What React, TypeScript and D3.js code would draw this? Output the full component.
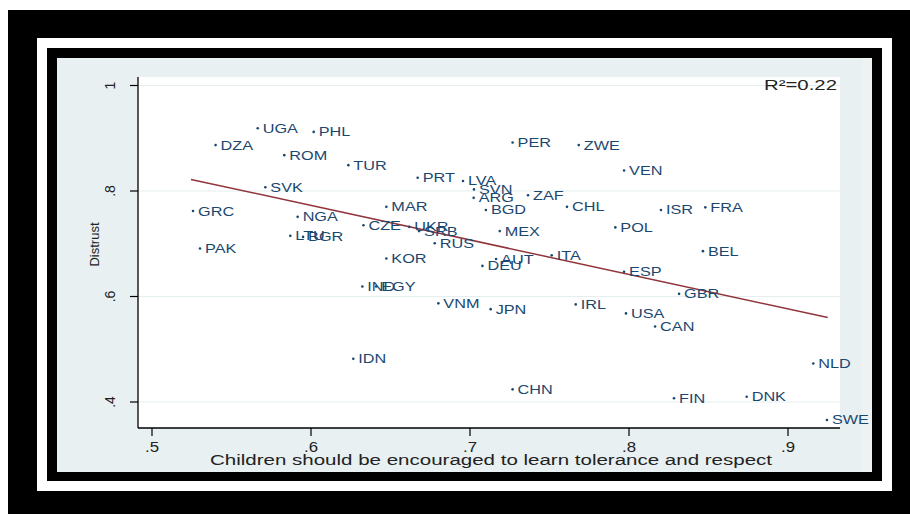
import React from 'react';
import * as d3 from 'd3';

const countries = ['UGA','PHL','DZA','ROM','TUR','SVK','GRC','NGA','LTU','BGR','PAK','CZE','PER','ZWE','PRT','LVA','SVN','ARG','ZAF','MAR','BGD','CHL','MEX','UKR','SRB','RUS','KOR','AUT','DEU','ITA','IND','EGY','VNM','JPN','IRL','IDN','CHN','VEN','ISR','FRA','POL','BEL','ESP','GBR','USA','CAN','NLD','FIN','DNK','SWE'];
const tolerance = [0.5665,0.6017,0.540,0.5832,0.6235,0.5713,0.5258,0.5916,0.587,0.595,0.5302,0.633,0.7268,0.7684,0.6671,0.6956,0.7025,0.7023,0.7365,0.6474,0.710,0.761,0.7187,0.6618,0.6680,0.6778,0.6474,0.7164,0.7078,0.7514,0.6323,0.641,0.6801,0.713,0.7665,0.6266,0.7268,0.7969,0.8201,0.848,0.7914,0.8465,0.7969,0.8315,0.7981,0.8164,0.9159,0.8283,0.874,0.9245];
const distrust = [0.919,0.912,0.887,0.868,0.849,0.807,0.762,0.751,0.715,0.713,0.691,0.735,0.892,0.887,0.825,0.819,0.803,0.787,0.792,0.770,0.764,0.770,0.724,0.732,0.724,0.701,0.672,0.671,0.658,0.678,0.619,0.619,0.587,0.576,0.585,0.482,0.424,0.839,0.764,0.769,0.731,0.686,0.647,0.605,0.568,0.543,0.473,0.407,0.410,0.366];
const xTicks = [0.5, 0.6, 0.7, 0.8, 0.9];
const yTicks = [0.4, 0.6, 0.8, 1];
const fitX = [0.5245, 0.925];
const fitY = [0.822, 0.560];
const r2Label = 'R\u00B2=0.22';
const xTitle = 'Children should be encouraged to learn tolerance and respect';
const yTitle = 'Distrust';

const FONT = '"Liberation Sans", Arial, Helvetica, sans-serif';
const NAVY = '#1a476f';
const MAROON = '#90353b';
const BG = '#e8f0f2';
const GRID = '#e4eef0';

export default function App() {
  const W = 910, H = 514;
  const plot = { l: 138, r: 840, t: 77, b: 428 };
  const x = d3.scaleLinear().domain([0.5, 0.9]).range([152, 788]);
  const y = d3.scaleLinear().domain([0.4, 1]).range([402, 85.5]);
  const fmt = (v: number) => (v === 1 ? '1' : d3.format('.1f')(v).replace(/^0/, ''));
  const line = d3.line<number>().x((d, i) => x(fitX[i])).y((d) => y(d));

  return (
    <svg width={W} height={H} style={{ position: 'absolute', left: 0, top: 0, fontFamily: FONT }}>
      <rect x={0} y={0} width={W} height={H} fill="#ffffff" />
      <rect x={8} y={10} width={W - 8} height={H - 10} fill="#000" />
      <rect x={37} y={38} width={855} height={453} fill="#fff" />
      <rect x={47} y={48} width={835} height={433} fill="#000" />
      <rect x={57} y={58} width={815} height={414} fill={BG} />
      <rect x={862} y={58} width={10} height={414} fill="#eef2f2" />
      <rect x={plot.l} y={plot.t} width={plot.r - plot.l} height={plot.b - plot.t} fill="#fff" />
      {yTicks.map((t) => (
        <line key={'g' + t} x1={plot.l} x2={plot.r} y1={y(t)} y2={y(t)} stroke={GRID} strokeWidth={1.2} />
      ))}
      <line x1={plot.l} x2={plot.l} y1={plot.t} y2={plot.b} stroke="#000" strokeWidth={1.3} />
      <line x1={plot.l} x2={plot.r} y1={plot.b} y2={plot.b} stroke="#000" strokeWidth={1.3} />
      {yTicks.map((t) => (
        <g key={'y' + t}>
          <line x1={plot.l - 8} x2={plot.l} y1={y(t)} y2={y(t)} stroke="#000" strokeWidth={1.2} />
          <text transform={`translate(115,${y(t)}) rotate(-90)`} textAnchor="middle" fontSize={14} fill="#222">{fmt(t)}</text>
        </g>
      ))}
      {xTicks.map((t) => (
        <g key={'x' + t}>
          <line x1={x(t)} x2={x(t)} y1={plot.b} y2={plot.b + 8} stroke="#000" strokeWidth={1.2} />
          <text transform={`translate(${x(t)},452) scale(1.2,1)`} textAnchor="middle" fontSize={14} fill="#222">{fmt(t)}</text>
        </g>
      ))}
      <text x={491} y={465} textAnchor="middle" fontSize={14} fill="#222" textLength={562} lengthAdjust="spacingAndGlyphs">{xTitle}</text>
      <text transform="translate(99,244.5) rotate(-90)" textAnchor="middle" fontSize={13} fill="#222">{yTitle}</text>
      <path d={line(fitY) || ''} fill="none" stroke={MAROON} strokeWidth={1.5} />
      {countries.map((c, i) => (
        <g key={c}>
          <circle cx={x(tolerance[i])} cy={y(distrust[i])} r={1.3} fill={NAVY} />
          <text transform={`translate(${x(tolerance[i]) + 5},${y(distrust[i]) + 4.5}) scale(1.3,1)`} fontSize={12.5} fill={NAVY}>{c}</text>
        </g>
      ))}
      <text x={837} y={90} textAnchor="end" fontSize={14} fill="#222" textLength={73} lengthAdjust="spacingAndGlyphs">{r2Label}</text>
    </svg>
  );
}
